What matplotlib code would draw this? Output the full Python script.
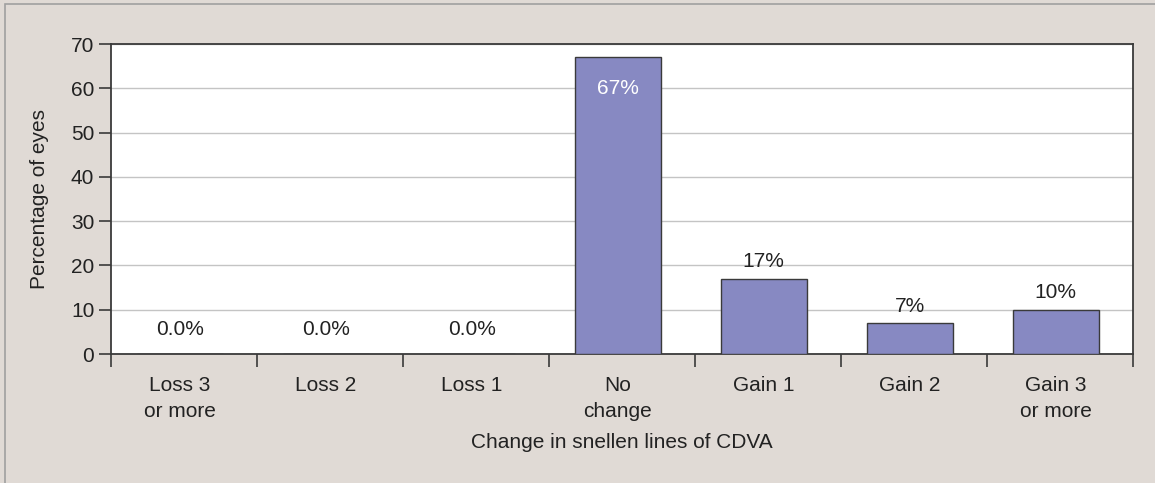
import matplotlib.pyplot as plt
from matplotlib.patches import Rectangle

categories = ["Loss 3\nor more", "Loss 2", "Loss 1", "No\nchange", "Gain 1", "Gain 2", "Gain 3\nor more"]
values = [0, 0, 0, 67, 17, 7, 10]
labels = ["0.0%", "0.0%", "0.0%", "67%", "17%", "7%", "10%"]

plt.rcParams['font.family'] = ['Liberation Sans', 'DejaVu Sans']
bg = "#e0dad5"
dark = "#3a3a3a"
txt = "#222222"
fs = 15

fig = plt.figure(figsize=(11.55, 4.83), dpi=100, facecolor=bg)
ax = fig.add_axes([111/1155, 1-354/483, (1133-111)/1155, (354-44)/483])

# outer frame line (top and left visible)
fig.patches.append(Rectangle((5/1155, -0.1), 1.2, 1-4/483+0.1, transform=fig.transFigure,
                             fill=False, edgecolor="#a0a0a0", linewidth=1.2))

shift = -0.03
x = [i + shift for i in range(len(categories))]
ax.bar(x, values, width=0.59, color="#8789c2", edgecolor=dark, linewidth=1.0, zorder=3)

for xi, v, lab in zip(x, values, labels):
    if v > 50:
        ax.text(xi, v - 7, lab, ha="center", va="center", color="white", fontsize=fs, zorder=4)
    elif v == 0:
        ax.text(xi, v + 5.6, lab, ha="center", va="center", color=txt, fontsize=fs)
    else:
        ax.text(xi, v + 3.8, lab, ha="center", va="center", color=txt, fontsize=fs)

ax.set_xlim(-0.5, 6.5)
ax.set_ylim(0, 70)
ax.set_yticks(range(0, 71, 10))
ax.yaxis.grid(True, color="#c4c4c4", linewidth=1.0, zorder=0)
ax.set_axisbelow(True)

ax.set_xticks([i - 0.5 for i in range(8)])
ax.set_xticklabels([])
ax.set_xticks(x, minor=True)
ax.set_xticklabels(categories, minor=True, fontsize=fs, color=txt, linespacing=1.45)
ax.tick_params(axis="x", which="minor", length=0, pad=16)
ax.tick_params(axis="x", which="major", length=9, width=1.2, color=dark, direction="out")
ax.tick_params(axis="y", length=9, width=1.2, color=dark, labelsize=fs, labelcolor=txt, pad=3)

for s in ax.spines.values():
    s.set_color(dark)
    s.set_linewidth(1.3)

ax.set_xlabel("Change in snellen lines of CDVA", fontsize=fs, color=txt, labelpad=9)
ax.set_ylabel("Percentage of eyes", fontsize=fs, color=txt, labelpad=16)

fig.savefig("out.png", dpi=100, facecolor=bg)
